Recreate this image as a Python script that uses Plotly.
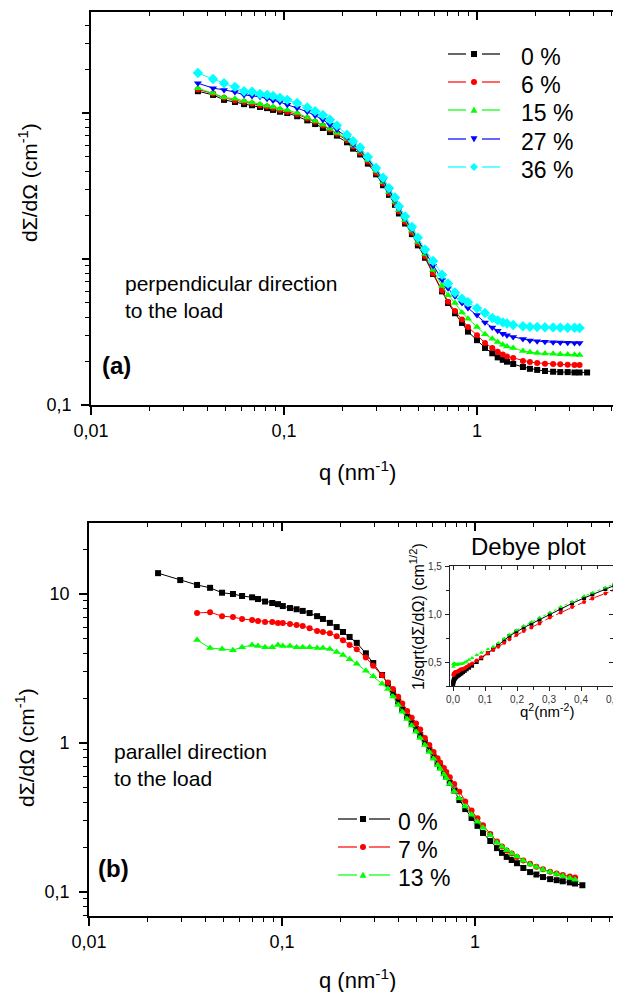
import numpy as np
import plotly.graph_objects as go

# ---------------- data ----------------
# Panel (a): perpendicular direction
Q_A = [0.0358, 0.0429, 0.0489, 0.0557, 0.0621, 0.0683, 0.0751, 0.0817, 0.0877, 0.0953,
       0.104, 0.117, 0.132, 0.145, 0.159, 0.173, 0.188, 0.212, 0.228, 0.248,
       0.272, 0.300, 0.326, 0.350, 0.376, 0.394, 0.424, 0.460, 0.494, 0.538,
       0.592, 0.659, 0.708, 0.769, 0.836, 0.898,
       1.00, 1.10, 1.20, 1.28, 1.36, 1.43, 1.54, 1.73, 1.88, 2.05, 2.25, 2.48, 2.70,
       2.95, 3.20, 3.40, 3.72]
A_0 = [14.1, 13.3, 12.3, 11.9, 11.5, 11.3, 11.0, 10.8, 10.5, 10.2,
       10.0, 9.5, 8.9, 8.4, 7.9, 7.4, 7.0, 6.3, 5.7, 5.2,
       4.5, 3.8, 3.2, 2.75, 2.35, 2.05, 1.75, 1.48, 1.24, 1.02,
       0.79, 0.60, 0.50, 0.425, 0.365, 0.318,
       0.278, 0.246, 0.226, 0.212, 0.204, 0.198, 0.191, 0.182, 0.177, 0.174, 0.171, 0.169, 0.168,
       0.168, 0.167, 0.167, 0.167]
A_6 = [14.5, 13.6, 12.7, 12.2, 11.9, 11.6, 11.3, 11.1, 10.8, 10.5,
       10.2, 9.8, 9.2, 8.7, 8.2, 7.7, 7.2, 6.5, 5.9, 5.35,
       4.65, 3.9, 3.3, 2.82, 2.42, 2.12, 1.80, 1.52, 1.28, 1.05,
       0.80, 0.61, 0.51, 0.44, 0.385, 0.342,
       0.301, 0.266, 0.246, 0.232, 0.222, 0.215, 0.210, 0.200, 0.197, 0.194, 0.192, 0.191, 0.190,
       0.189, 0.188, 0.188, None]
A_15 = [14.8, 13.7, 12.8, 12.5, 12.1, 11.8, 11.5, 11.2, 11.0, 10.7,
        10.5, 10.0, 9.3, 8.8, 8.3, 7.8, 7.3, 6.6, 6.0, 5.45,
        4.75, 4.0, 3.35, 2.88, 2.47, 2.16, 1.84, 1.56, 1.31, 1.08,
        0.84, 0.655, 0.565, 0.50, 0.43, 0.39,
        0.342, 0.305, 0.284, 0.270, 0.259, 0.252, 0.246, 0.234, 0.230, 0.227, 0.225, 0.224, 0.223,
        0.222, 0.221, 0.220, None]
A_27 = [16.0, 14.8, 14.4, 13.9, 13.3, 13.1, 12.9, 12.5, 12.2, 11.9,
        11.4, 10.8, 10.2, 9.6, 9.0, 8.3, 7.7, 6.8, 6.1, 5.55,
        4.85, 4.1, 3.45, 2.95, 2.54, 2.22, 1.90, 1.60, 1.36, 1.12,
        0.90, 0.72, 0.63, 0.555, 0.50, 0.461,
        0.413, 0.368, 0.340, 0.322, 0.308, 0.300, 0.292, 0.283, 0.277, 0.273, 0.271, 0.269, 0.268,
        0.267, 0.266, 0.266, None]
A_36 = [18.8, 17.1, 16.0, 15.1, 14.1, 14.0, 13.5, 13.3, 13.1, 12.7,
        12.3, 11.7, 10.9, 10.3, 9.7, 9.0, 8.2, 7.1, 6.4, 5.8,
        5.0, 4.2, 3.6, 3.06, 2.64, 2.30, 1.96, 1.66, 1.40, 1.16,
        0.97, 0.78, 0.68, 0.59, 0.535, 0.505,
        0.460, 0.427, 0.394, 0.380, 0.368, 0.362, 0.353, 0.346, 0.343, 0.342, 0.341, 0.340, 0.339,
        0.338, 0.338, 0.337, None]
LABELS_A = ["0 %", "6 %", "15 %", "27 %", "36 %"]

# Panel (b): parallel direction
Q_B = [0.0228, 0.0297, 0.0363, 0.0424, 0.0489, 0.0557, 0.0621, 0.0700, 0.0751, 0.0817,
       0.0890, 0.0953, 0.101, 0.110, 0.119, 0.128, 0.139, 0.152, 0.163, 0.177,
       0.192, 0.207, 0.224, 0.244, 0.272, 0.297, 0.330,
       0.354, 0.376, 0.400, 0.420, 0.445, 0.470, 0.495, 0.520, 0.550, 0.580,
       0.610, 0.640, 0.660, 0.690, 0.710, 0.740, 0.780, 0.830, 0.890, 0.960,
       1.03, 1.10, 1.20, 1.30, 1.38, 1.46, 1.55, 1.65, 1.78, 1.93,
       2.08, 2.25, 2.45, 2.65, 2.85, 3.10, 3.30, 3.60]
B_0 = [13.8, 12.4, 11.5, 11.0, 10.2, 10.0, 9.7, 9.5, 9.25, 8.9,
       8.7, 8.55, 8.3, 8.05, 7.9, 7.7, 7.45, 7.1, 6.8, 6.4,
       6.0, 5.56, 5.15, 4.7, 4.0, 3.44, 2.86,
       2.5, 2.18, 1.90, 1.68, 1.50, 1.36, 1.24, 1.13, 1.01, 0.90,
       0.81, 0.735, 0.69, 0.63, 0.595, 0.54, 0.48, 0.414, 0.36, 0.314,
       0.278, 0.249, 0.22, 0.197, 0.183, 0.172, 0.164, 0.156, 0.145, 0.136,
       0.131, 0.126, 0.122, 0.120, 0.118, 0.116, 0.114, 0.111]
B_7 = [None, None, 7.45, 7.55, 7.1, 7.0, 6.8, 6.7, 6.6, 6.5,
       6.5, 6.4, 6.4, 6.3, 6.2, 6.1, 5.9, 5.65, 5.56, 5.45,
       5.2, 4.9, 4.55, 4.25, 3.75, 3.3, 2.85,
       2.55, 2.3, 2.04, 1.84, 1.64, 1.48, 1.35, 1.23, 1.08, 0.97,
       0.87, 0.79, 0.74, 0.68, 0.64, 0.59, 0.53, 0.47, 0.405, 0.352,
       0.312, 0.28, 0.245, 0.218, 0.202, 0.19, 0.181, 0.172, 0.163, 0.155,
       0.148, 0.142, 0.137, 0.133, 0.130, 0.127, 0.125, None]
B_13 = [None, None, 4.91, 4.34, 4.27, 4.2, 4.4, 4.54, 4.48, 4.4,
        4.4, 4.54, 4.48, 4.48, 4.4, 4.4, 4.4, 4.34, 4.34, 4.27,
        4.08, 3.9, 3.65, 3.4, 3.05, 2.8, 2.5,
        2.3, 2.05, 1.80, 1.62, 1.45, 1.31, 1.19, 1.08, 0.97, 0.87,
        0.785, 0.71, 0.67, 0.615, 0.58, 0.53, 0.475, 0.425, 0.375, 0.33,
        0.296, 0.27, 0.24, 0.215, 0.201, 0.191, 0.181, 0.173, 0.162, 0.153,
        0.147, 0.141, 0.136, 0.132, 0.128, 0.124, 0.121, None]
LABELS_B = ["0 %", "7 %", "13 %"]

# ---------------- layout helpers ----------------
W, H = 621, 992          # window
OFF = 8                  # default page (body) margin of the html page
FW, FH = W - OFF, H - OFF  # figure size so that it ends at the window edge
FONT = "Liberation Sans, Arial, Helvetica, sans-serif"


def fx(p):
    return (p - OFF) / FW


def fy(p):
    return 1 - (p - OFF) / FH


LOG_MINOR = [m * 10.0 ** e for e in range(-3, 2) for m in range(2, 10)]

fig = go.Figure()

styles_a = [("black", "square", 6), ("red", "circle", 6), ("#00ff00", "triangle-up", 7),
            ("blue", "triangle-down", 7), ("cyan", "diamond", 8)]
styles_b = styles_a[:3]

# ---------- panel (a) traces ----------
for ys, lab, (col, sym, sz) in zip([A_0, A_6, A_15, A_27, A_36], LABELS_A, styles_a):
    fig.add_trace(go.Scatter(x=Q_A, y=ys, mode="lines+markers", name=lab,
                             line=dict(color=col, width=1),
                             marker=dict(symbol=sym, size=sz, color=col),
                             xaxis="x", yaxis="y", showlegend=False))

# ---------- panel (b) traces ----------
for ys, lab, (col, sym, sz) in zip([B_0, B_7, B_13], LABELS_B, styles_b):
    fig.add_trace(go.Scatter(x=Q_B, y=ys, mode="lines+markers", name=lab,
                             line=dict(color=col, width=1),
                             marker=dict(symbol=sym, size=sz, color=col),
                             xaxis="x3", yaxis="y3", showlegend=False))

# ---------- inset: Debye plot from panel (b) data ----------
dashes = ["solid", "dashdot", "dot"]
qb = np.array(Q_B)
for ys, lab, (col, sym, sz), dsh in zip([B_0, B_7, B_13], LABELS_B, styles_b, dashes):
    v = np.array([np.nan if y is None else y for y in ys], dtype=float)
    m = (qb ** 2 <= 0.51) & ~np.isnan(v)
    fig.add_trace(go.Scatter(x=qb[m] ** 2, y=1 / np.sqrt(v[m]), mode="lines+markers",
                             name=lab, line=dict(color=col, width=1, dash=dsh),
                             marker=dict(symbol=sym, size=4, color=col),
                             xaxis="x5", yaxis="y5", showlegend=False))

# dummy traces so overlay axes are drawn
for xa, ya in [("x2", "y"), ("x", "y2"), ("x", "y7"), ("x4", "y3"), ("x3", "y4"),
               ("x6", "y5"), ("x5", "y6")]:
    fig.add_trace(go.Scatter(x=[None], y=[None], xaxis=xa, yaxis=ya, showlegend=False,
                             hoverinfo="skip"))

common = dict(showgrid=False, zeroline=False, linecolor="black", tickcolor="black",
              linewidth=1.8, tickwidth=1.5, automargin=False,
              tickfont=dict(family=FONT, size=18, color="black"))


def minor(ticks):
    return dict(tickvals=LOG_MINOR, ticks=ticks, ticklen=4.5, tickwidth=1.3, tickcolor="black")


def log_x(dom, rng, side, ticks, labels, overlay=None, anchor=None):
    d = dict(common, type="log", domain=dom, range=rng, side=side, anchor=anchor,
             showline=True, ticks=ticks, ticklen=8, tickvals=[0.01, 0.1, 1],
             showticklabels=labels, minor=minor(ticks))
    if labels:
        d.update(ticktext=["0,01", "0,1", "1"], ticklabelstandoff=0)
    if overlay:
        d["overlaying"] = overlay
    return d


def log_y(dom, rng, side, ticks, vals, text=None, overlay=None, anchor=None, showline=True,
          with_minor=True):
    d = dict(common, type="log", domain=dom, range=rng, side=side, anchor=anchor,
             showline=showline, ticks=ticks, ticklen=8, tickvals=vals,
             showticklabels=text is not None)
    if with_minor:
        d["minor"] = minor(ticks)
    if text is not None:
        d.update(ticktext=text, ticklabelstandoff=6)
    if overlay:
        d["overlaying"] = overlay
    return d


# panel (a) geometry (window pixels)
ax_l, ay_t, ay_b = 91, 12, 405
xa_rng = [-2, -2 + (W - ax_l) / 193.0]
ya_rng = [-1, -1 + (ay_b - ay_t) / 146.0]
xa_dom = [fx(ax_l), 1]
ya_dom = [fy(ay_b), fy(ay_t)]

# panel (b) geometry
bx_l, by_t, by_b = 89, 523, 916
xb_rng = [-2, -2 + (W - bx_l) / 193.0]
yb_rng = [(743 - by_b) / 149.0, (743 - by_t) / 149.0]
xb_dom = [fx(bx_l), 1]
yb_dom = [fy(by_b), fy(by_t)]

# inset geometry
ix_l, ix_r, iy_t, iy_b = 450, 613, 566, 686
ix_rng = [(ix_l - 453) / 320.0, (ix_r - 453) / 320.0]
iy_rng = [0.5 - (iy_b - 662) / 96.0, 0.5 + (662 - iy_t) / 96.0]

inset_common = dict(showgrid=False, zeroline=False, linecolor="#222", tickcolor="#222",
                    linewidth=1.4, tickwidth=1, showline=True, automargin=False,
                    tickfont=dict(family=FONT, size=10, color="#333"))
IX_T = [0, 0.1, 0.2, 0.3, 0.4, 0.5]
IY_T = [0.5, 1.0, 1.5]

fig.update_layout(
    width=FW, height=FH, margin=dict(l=0, r=0, t=0, b=0, pad=0, autoexpand=False),
    paper_bgcolor="white", plot_bgcolor="white",
    font=dict(family=FONT, color="black"), showlegend=False,
    xaxis=log_x(xa_dom, xa_rng, "bottom", "outside", True, anchor="y"),
    xaxis2=log_x(xa_dom, xa_rng, "top", "inside", False, overlay="x", anchor="y"),
    yaxis=log_y(ya_dom, ya_rng, "left", "outside", [0.1], ["0,1"], anchor="x"),
    yaxis7=log_y(ya_dom, ya_rng, "left", "outside", [1, 10], None, overlay="y", anchor="x",
                 showline=False, with_minor=False),
    yaxis2=log_y(ya_dom, ya_rng, "right", "inside", [0.1, 1, 10], None, overlay="y",
                 anchor="x", showline=False),
    xaxis3=log_x(xb_dom, xb_rng, "bottom", "outside", True, anchor="y3"),
    xaxis4=log_x(xb_dom, xb_rng, "top", "inside", False, overlay="x3", anchor="y3"),
    yaxis3=log_y(yb_dom, yb_rng, "left", "outside", [0.1, 1, 10], ["0,1", "1", "10"],
                 anchor="x3"),
    yaxis4=log_y(yb_dom, yb_rng, "right", "inside", [0.1, 1, 10], None, overlay="y3",
                 anchor="x3", showline=False),
    xaxis5=dict(inset_common, domain=[fx(ix_l), fx(ix_r)], range=ix_rng, anchor="y5",
                side="bottom", ticks="outside", ticklen=4, tickvals=IX_T,
                ticktext=["0,0", "0,1", "0,2", "0,3", "0,4", "0,5"], ticklabelstandoff=0,
                minor=dict(dtick=0.05, ticks="outside", ticklen=2.5, tickcolor="#222")),
    xaxis6=dict(inset_common, domain=[fx(ix_l), fx(ix_r)], range=ix_rng, anchor="y5",
                overlaying="x5", side="top", ticks="inside", ticklen=4,
                tickvals=IX_T, showticklabels=False,
                minor=dict(dtick=0.05, ticks="inside", ticklen=2.5, tickcolor="#222")),
    yaxis5=dict(inset_common, domain=[fy(iy_b), fy(iy_t)], range=iy_rng, anchor="x5",
                side="left", ticks="outside", ticklen=4, tickvals=IY_T,
                ticktext=["0,5", "1,0", "1,5"], ticklabelstandoff=1,
                minor=dict(dtick=0.25, ticks="outside", ticklen=2.5, tickcolor="#222")),
    yaxis6=dict(inset_common, domain=[fy(iy_b), fy(iy_t)], range=iy_rng, anchor="x5",
                overlaying="y5", side="right", ticks="inside", ticklen=4,
                tickvals=IY_T, showticklabels=False,
                minor=dict(dtick=0.25, ticks="inside", ticklen=2.5, tickcolor="#222")),
)

ann = []
shapes = []


def text(x, y, s, size, xanchor="left", angle=0):
    ann.append(dict(x=fx(x), y=fy(y), xref="paper", yref="paper", text=s, showarrow=False,
                    xanchor=xanchor, yanchor="middle", textangle=angle,
                    font=dict(family=FONT, size=size, color="black"), align="left"))


def marker_shape(cx, cy, sym, size, col):
    h = size / 2.0
    base = dict(xref="paper", yref="paper", xsizemode="pixel", ysizemode="pixel",
                xanchor=fx(cx), yanchor=fy(cy), fillcolor=col, line=dict(width=0),
                layer="above")
    if sym == "square":
        shapes.append(dict(base, type="rect", x0=-h, x1=h, y0=-h, y1=h))
    elif sym == "circle":
        shapes.append(dict(base, type="circle", x0=-h, x1=h, y0=-h, y1=h))
    elif sym == "triangle-up":
        shapes.append(dict(base, type="path", path=f"M{-h},{-h*0.8} L{h},{-h*0.8} L0,{h} Z"))
    elif sym == "triangle-down":
        shapes.append(dict(base, type="path", path=f"M{-h},{h*0.8} L{h},{h*0.8} L0,{-h} Z"))
    elif sym == "diamond":
        shapes.append(dict(base, type="path", path=f"M{-h},0 L0,{h} L{h},0 L0,{-h} Z"))


def legend(labels, styles, x0, xm, x1, gap, xt, ys, size):
    for lab, (col, sym, sz), y in zip(labels, styles, ys):
        for a, b in [(x0, xm - gap), (xm + gap, x1)]:
            shapes.append(dict(type="line", xref="paper", yref="paper", x0=fx(a), x1=fx(b),
                               y0=fy(y - 3), y1=fy(y - 3), line=dict(color=col, width=1.2)))
        marker_shape(xm, y - 3, sym, sz, col)
        text(xt, y, lab, size)


legend(LABELS_A, styles_a, 448, 474, 500, 8, 519, [57, 85, 113, 142, 170], 23)
legend(LABELS_B, styles_b, 338, 363, 390, 6, 396, [822, 850, 878], 23)

# axis titles
text(357, 471, "q (nm<sup>-1</sup>)", 22, xanchor="center")
text(357, 979, "q (nm<sup>-1</sup>)", 22, xanchor="center")
text(28, 183, "dΣ/dΩ (cm<sup>-1</sup>)", 21, xanchor="center", angle=-90)
text(25, 748, "dΣ/dΩ (cm<sup>-1</sup>)", 21, xanchor="center", angle=-90)
# notes
text(123, 297, "perpendicular direction<br>to the load", 21)
text(112, 765, "parallel direction<br>to the load", 21)
text(100, 365, "<b>(a)</b>", 24)
text(96, 868, "<b>(b)</b>", 24)
# inset labels
text(528, 546, "Debye plot", 24, xanchor="center")
text(417, 617, "1/sqrt(dΣ/dΩ) (cm<sup>1/2</sup>)", 16, xanchor="center", angle=-90)
text(547, 710, "q<sup>2</sup>(nm<sup>-2</sup>)", 15, xanchor="center")

fig.update_layout(annotations=ann, shapes=shapes)
fig.write_html("out.html")
